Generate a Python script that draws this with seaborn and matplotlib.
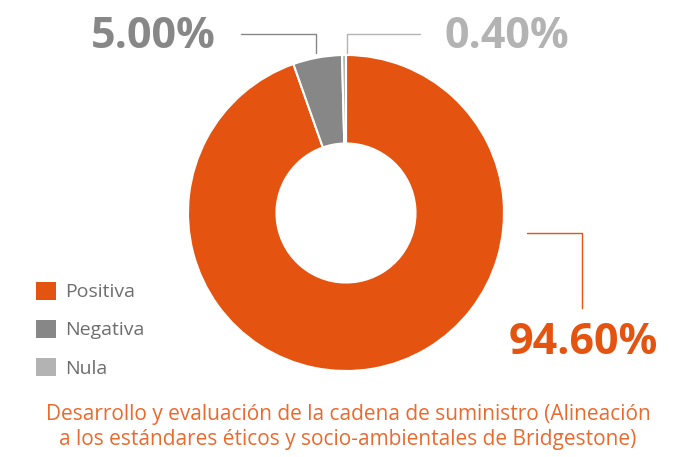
import matplotlib
matplotlib.use("Agg")
import matplotlib.pyplot as plt
import seaborn as sns

# data
categories = ["Positiva", "Negativa", "Nula"]
values = [94.60, 5.00, 0.40]
labels = ["94.60%", "5.00%", "0.40%"]
colors = ["#E55310", "#878787", "#B3B3B3"]
caption = ("Desarrollo y evaluación de la cadena de suministro (Alineación\n"
           "a los estándares éticos y socio-ambientales de Bridgestone)")

sns.set_theme(style="white")
plt.rcParams['font.family'] = ['Open Sans', 'DejaVu Sans']

W, H = 700, 457
fig = plt.figure(figsize=(W / 100, H / 100), dpi=100)

# pie centre and radius in pixels
cx, cy, r = 346, 213, 158
ax = fig.add_axes([(cx - r) / W, (H - cy - r) / H, 2 * r / W, 2 * r / H])

wedges, _ = ax.pie(values, colors=sns.color_palette(colors), startangle=90,
                   counterclock=False, radius=1,
                   wedgeprops=dict(width=0.56, edgecolor="white", linewidth=1.5))
ax.set_xlim(-1, 1)
ax.set_ylim(-1, 1)
ax.set_aspect("equal")
ax.axis("off")


def px(x, y):
    # pixel position -> data coordinates of the pie axes
    return (x - cx) / r, (cy - y) / r


def leader(points, color):
    xs, ys = zip(*[px(*p) for p in points])
    ax.plot(xs, ys, color=color, lw=1.0, clip_on=False)


# leader lines
leader([(527, 233), (582, 233), (582, 308)], colors[0])
leader([(241, 34), (316, 34), (316, 53)], colors[1])
leader([(420, 34), (347, 34), (347, 53)], colors[2])

# value labels
lx, ly = px(583, 342)
ax.text(lx, ly, labels[0], color=colors[0], fontsize=31, fontweight="bold",
        ha="center", va="center")
lx, ly = px(153, 37)
ax.text(lx, ly, labels[1], color=colors[1], fontsize=31, fontweight="bold",
        ha="center", va="center")
lx, ly = px(507, 37)
ax.text(lx, ly, labels[2], color=colors[2], fontsize=31, fontweight="bold",
        ha="center", va="center")

# legend
leg = fig.legend(wedges, categories, loc="upper left",
                 bbox_to_anchor=(22 / W, 1 - 268 / H), frameon=False,
                 fontsize=14, labelcolor="#6E6E6E", handlelength=1.05,
                 handleheight=1.05, handletextpad=0.45, labelspacing=0.95,
                 borderpad=0.2)
for h in leg.legend_handles:
    h.set_edgecolor("none")

fig.text(348 / W, 1 - 427 / H, caption, color="#EA6A2E", fontsize=15,
         ha="center", va="center", linespacing=1.2)

fig.savefig("out.png", dpi=100)
